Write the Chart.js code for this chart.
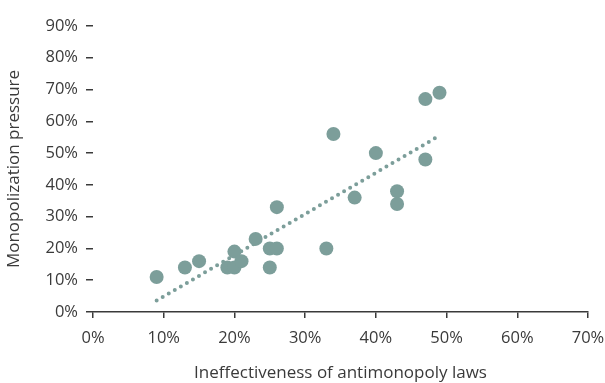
<!DOCTYPE html>
<html>
<head>
<meta charset="utf-8">
<script src="https://cdn.jsdelivr.net/npm/chart.js@4/dist/chart.umd.min.js"></script>
<style>
  html, body { margin: 0; padding: 0; background: #fff; }
  #wrap { width: 605px; height: 383px; }
</style>
</head>
<body>
<div id="wrap"><canvas id="chart"></canvas></div>
<script>
// share of ineffectiveness (x) vs monopolization pressure (y), in %
const lawIneffectiveness = [9, 13, 15, 19, 20, 20, 21, 23, 25, 26, 25, 26, 33, 34, 40, 37, 43, 43, 47, 47, 49]
const monopolizationPressure = [11, 14, 16, 14, 14, 19, 16, 23, 20, 20, 14, 33, 20, 56, 50, 36, 38, 34, 48, 67, 69]

// dotted trend line
const trendX = [9, 49]
const trendY = [3.6, 55.5]

const xTicks = [0, 10, 20, 30, 40, 50, 60, 70]
const yTicks = [0, 10, 20, 30, 40, 50, 60, 70, 80, 90]

const teal = "#7c9e9a"
const ink = "#3a3a3a"
const font = { family: "'Open Sans', sans-serif", size: 16.5 }
const titleFont = { family: "'Open Sans', sans-serif", size: 17 }

const points = lawIneffectiveness.map((x, i) => ({ x, y: monopolizationPressure[i] }))
const trend = trendX.map((x, i) => ({ x, y: trendY[i] }))

new Chart(document.getElementById("chart"), {
  type: "scatter",
  data: {
    datasets: [
      {
        label: "trend",
        type: "line",
        data: trend,
        borderColor: teal,
        borderWidth: 4,
        borderDash: [0, 7],
        borderCapStyle: "round",
        pointRadius: 0,
        fill: false,
        order: 2
      },
      {
        label: "countries",
        data: points,
        backgroundColor: teal,
        borderWidth: 0,
        pointRadius: 7,
        pointHoverRadius: 7,
        order: 1
      }
    ]
  },
  options: {
    responsive: true,
    maintainAspectRatio: false,
    animation: false,
    layout: { padding: { top: 26, right: 0, left: 0, bottom: 0 } },
    plugins: { legend: { display: false }, tooltip: { enabled: false } },
    scales: {
      x: {
        type: "linear",
        min: 0,
        max: 70,
        afterBuildTicks: s => { s.ticks = xTicks.map(v => ({ value: v })) },
        afterFit: s => { s.height = 71; s.paddingRight = 17 },
        ticks: { color: ink, font, padding: 10, callback: v => v + "%" },
        grid: { drawOnChartArea: false, color: ink, tickLength: 6, lineWidth: 1.5 },
        border: { display: true, color: ink, width: 1.5 },
        title: { display: true, text: "Ineffectiveness of antimonopoly laws", color: ink, font: titleFont, padding: { top: 0, bottom: 0 } }
      },
      y: {
        type: "linear",
        min: 0,
        max: 90,
        afterBuildTicks: s => { s.ticks = yTicks.map(v => ({ value: v })) },
        afterFit: s => { s.width = 93 },
        ticks: { color: ink, font, padding: 8, callback: v => v + "%" },
        grid: { drawOnChartArea: false, color: ink, tickLength: 7, lineWidth: 1.5 },
        border: { display: false },
        title: { display: true, text: "Monopolization pressure", color: ink, font: titleFont, padding: { top: 4, bottom: 0 } }
      }
    }
  }
})
</script>
</body>
</html>
